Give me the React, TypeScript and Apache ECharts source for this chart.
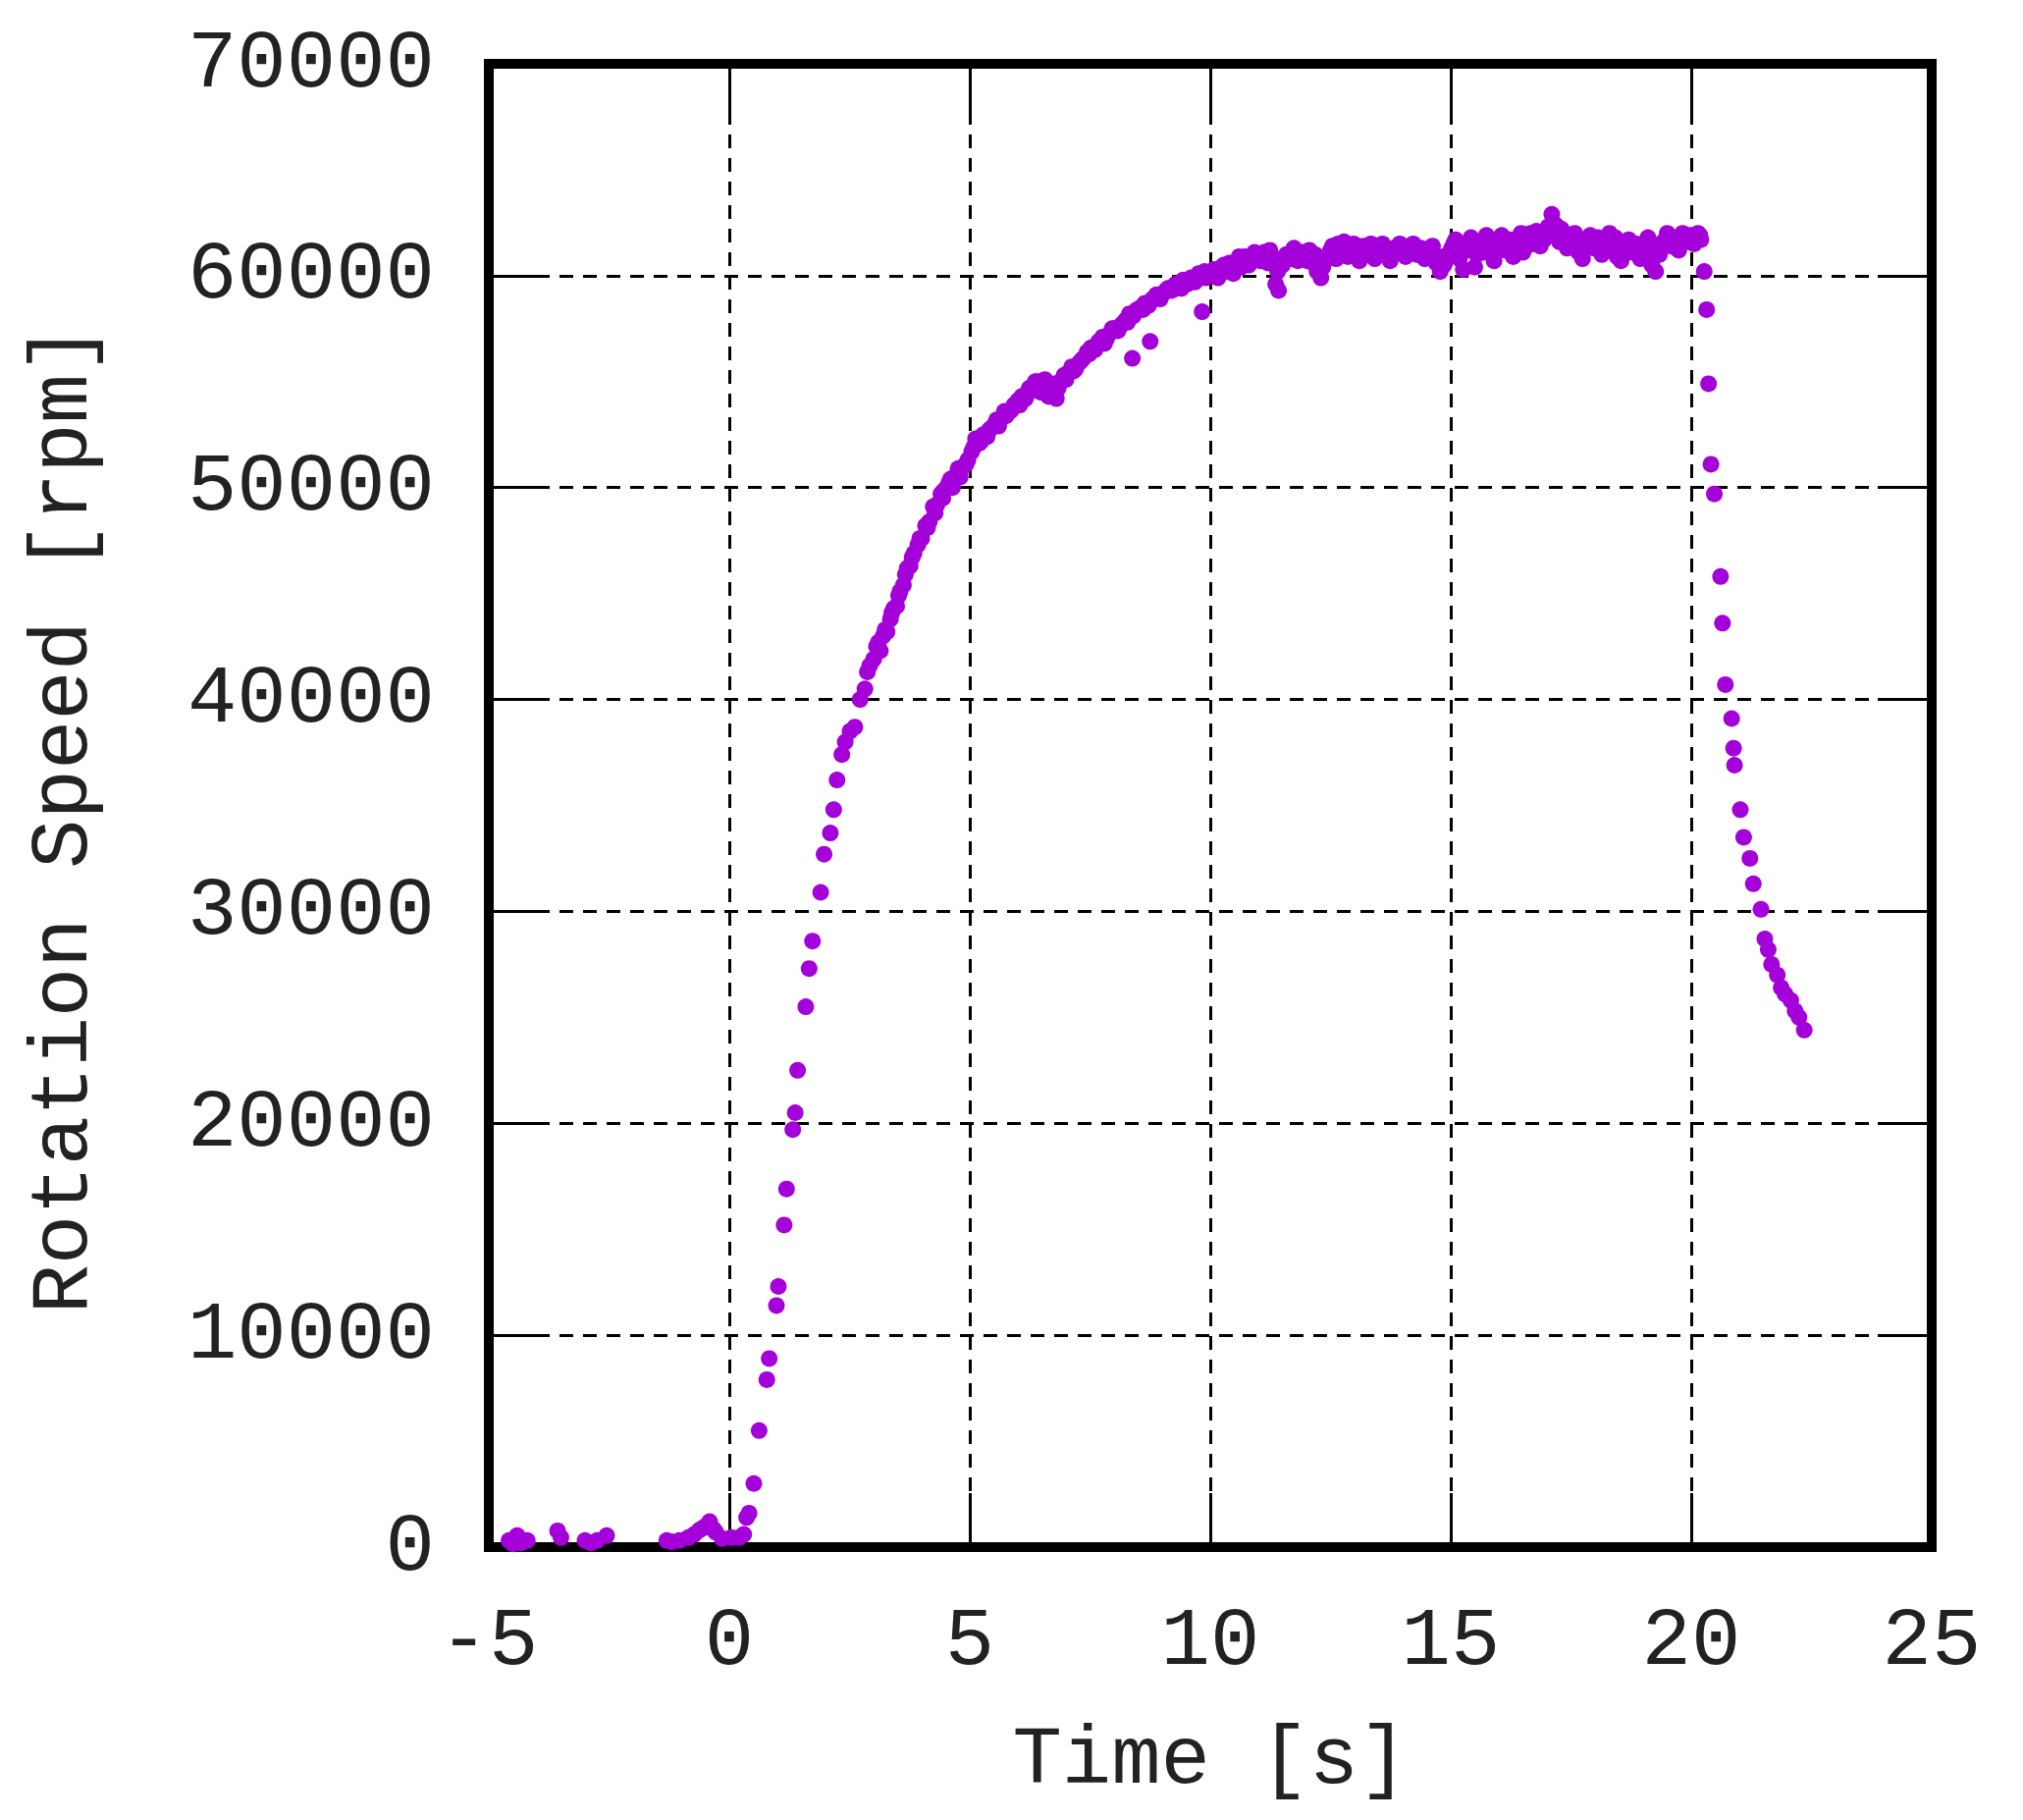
import React, { useEffect, useRef } from "react";
import * as echarts from "echarts";

// [time s, speed rpm], split by phase
const idle: [number, number][] = [
  [-4.62, -150], [-4.58, 310], [-4.5, 150], [-4.41, 540], [-4.33, 200],
  [-4.2, 310], [-3.57, 770], [-3.5, 450], [-3.0, 310], [-2.96, -150],
  [-2.88, 200], [-2.75, 310], [-2.55, 540], [-1.3, 310], [-1.2, 250],
  [-1.04, 310], [-0.85, 450], [-0.73, 600], [-0.62, 800], [-0.55, 900],
  [-0.48, 1000], [-0.41, 1200], [-0.33, 850], [-0.28, 700], [-0.15, 400],
  [0.04, 450], [0.2, 450], [0.3, 600],
];

const spinUp: [number, number][] = [
  [0.36, 1400], [0.41, 1600], [0.51, 3000], [0.62, 5500], [0.78, 7900],
  [0.83, 8900], [0.98, 11400], [1.02, 12300], [1.14, 15200], [1.19, 16900],
  [1.32, 19700], [1.37, 20500], [1.42, 22500], [1.59, 25500], [1.66, 27300],
  [1.73, 28600], [1.9, 30900], [1.97, 32700], [2.1, 33700], [2.17, 34800],
  [2.24, 36200], [2.34, 37400], [2.41, 38000], [2.51, 38500], [2.61, 38700],
  [2.72, 40000], [2.82, 40500], [2.87, 41300], [2.92, 41600], [3.0, 41900],
  [3.06, 42500], [3.14, 42300], [3.2, 43000], [3.28, 43200], [3.35, 43800],
  [3.42, 44300], [3.48, 44400], [3.55, 45100], [3.62, 45400], [3.7, 46200],
  [3.76, 46300], [3.84, 46900], [3.92, 47300], [4.0, 47600], [4.08, 48200],
  [4.16, 48400], [4.24, 49100], [4.32, 49200], [4.4, 49700], [4.48, 49900],
  [4.56, 50200], [4.64, 50000], [4.72, 50600], [4.8, 50500], [4.88, 51000],
  [4.96, 51300], [5.04, 51700], [5.12, 52300], [5.2, 52100], [5.28, 52500],
  [5.36, 52400], [5.44, 52800], [5.52, 53000], [5.6, 52900], [5.68, 53300],
  [5.76, 53400], [5.84, 53600], [5.92, 53900], [6.0, 54100], [6.08, 54300],
  [6.16, 54200], [6.24, 54700], [6.32, 54600], [6.4, 55000], [6.48, 54500],
  [6.56, 55100], [6.64, 54300], [6.72, 54900], [6.8, 54200], [6.88, 55000],
  [6.96, 55300], [7.04, 55400], [7.12, 55700], [7.2, 55600], [7.28, 55900],
  [7.36, 56100], [7.44, 56400], [7.52, 56600], [7.6, 56500], [7.68, 56900],
  [7.76, 57100], [7.84, 57000], [7.92, 57300], [8.0, 57500], [8.08, 57400],
  [8.16, 57700], [8.24, 57900], [8.32, 58200], [8.38, 56100], [8.4, 58100],
  [8.48, 58400], [8.56, 58500], [8.64, 58700], [8.72, 58600], [8.75, 56900],
  [8.8, 58900], [8.88, 59100], [8.96, 58900], [9.04, 59200], [9.12, 59400],
  [9.2, 59300], [9.28, 59600], [9.36, 59500], [9.44, 59800], [9.52, 59600],
  [9.6, 59900], [9.68, 59700], [9.76, 60100], [9.83, 58300], [9.9, 59900],
  [10.0, 60100],
];

// second pass over the thick part of the spin-up band
const spinUpBand: [number, number][] = [
  [3.1, 42700], [3.24, 43300], [3.38, 44100], [3.52, 44900], [3.66, 45900],
  [3.8, 46700], [3.96, 47600], [4.12, 48100], [4.28, 48800], [4.44, 49500],
  [4.6, 50400], [4.76, 50900], [4.92, 51100], [5.08, 51900], [5.24, 52200],
  [5.4, 52700], [5.56, 53200], [5.72, 53600], [5.88, 53700], [6.04, 53900],
  [6.2, 54500], [6.36, 55000], [6.52, 54800], [6.68, 54600], [6.84, 54700],
  [7.0, 55100], [7.16, 55500], [7.32, 56000], [7.48, 56300], [7.64, 56700],
  [7.8, 56800], [7.96, 57500], [8.12, 57600], [8.28, 57800], [8.44, 58300],
  [8.6, 58400], [8.76, 58800], [8.92, 59000], [9.08, 59300], [9.24, 59500],
  [9.4, 59400], [9.56, 59800], [9.72, 59900], [9.88, 60200],
];

const plateau: [number, number][] = [
  [10.08, 60300], [10.16, 59900], [10.24, 60400], [10.32, 60200], [10.4, 60600],
  [10.48, 60100], [10.56, 60700], [10.64, 60400], [10.72, 60900], [10.8, 60500],
  [10.88, 60800], [10.96, 61000], [11.04, 60700], [11.12, 61100], [11.2, 60600],
  [11.28, 60900], [11.36, 59600], [11.42, 59300], [11.5, 60500], [11.58, 61000],
  [11.66, 60800], [11.74, 61300], [11.82, 60700], [11.9, 61100], [11.98, 60900],
  [12.06, 61200], [12.14, 60600], [12.22, 60200], [12.3, 59900], [12.38, 60700],
  [12.46, 61000], [12.54, 61400], [12.62, 60800], [12.7, 61200], [12.78, 61600],
  [12.86, 60900], [12.94, 61300], [13.02, 61100], [13.1, 60700], [13.18, 61400],
  [13.26, 61000], [13.34, 61500], [13.42, 60800], [13.5, 61200], [13.58, 61500],
  [13.66, 61000], [13.74, 60700], [13.82, 61300], [13.9, 61100], [13.98, 61400],
  [14.06, 60900], [14.14, 61200], [14.22, 61500], [14.3, 61000], [14.38, 61300],
  [14.46, 60800], [14.54, 61100], [14.62, 61400], [14.7, 60600], [14.78, 60200],
  [14.86, 60500], [14.94, 61000], [15.02, 61300], [15.1, 61700], [15.18, 60800],
  [15.26, 60300], [15.34, 61200], [15.42, 61800], [15.5, 60400], [15.58, 61600],
  [15.66, 61100], [15.74, 61900], [15.82, 61300], [15.9, 60700], [15.98, 61500],
  [16.06, 61900], [16.14, 61200], [16.22, 61700], [16.3, 60900], [16.38, 61400],
  [16.46, 62000], [16.54, 61300], [16.62, 61800], [16.7, 61500], [16.78, 62100],
  [16.86, 61400], [16.94, 61700], [17.02, 62300], [17.1, 62900], [17.18, 62400],
  [17.26, 61600], [17.34, 61900], [17.42, 61300], [17.5, 61700], [17.58, 62000],
  [17.66, 61100], [17.74, 60800], [17.82, 61500], [17.9, 61900], [17.98, 61300],
  [18.06, 61800], [18.14, 61000], [18.22, 61600], [18.3, 62000], [18.38, 61400],
  [18.46, 60900], [18.54, 60700], [18.62, 61300], [18.7, 61700], [18.78, 61100],
  [18.86, 61500], [18.94, 60800], [19.02, 61200], [19.1, 61800], [19.18, 60500],
  [19.26, 60200], [19.34, 61000], [19.42, 61600], [19.5, 62000], [19.58, 61400],
  [19.66, 61800], [19.74, 61200], [19.82, 62000], [19.9, 61600], [19.98, 61900],
  [20.06, 61500], [20.14, 62000], [20.2, 61700],
];

// second pass over the plateau band
const plateauBand: [number, number][] = [
  [10.12, 60100], [10.28, 60500], [10.44, 60300], [10.6, 60900], [10.76, 60600],
  [10.92, 61100], [11.08, 60900], [11.24, 61200], [11.4, 60200], [11.54, 60800],
  [11.7, 61100], [11.86, 61000], [12.02, 60700], [12.18, 61000], [12.34, 60400],
  [12.5, 61200], [12.66, 61500], [12.82, 61000], [12.98, 61500], [13.14, 61200],
  [13.3, 61300], [13.46, 61000], [13.62, 61300], [13.78, 61100], [13.94, 61500],
  [14.1, 61100], [14.26, 61300], [14.42, 61100], [14.58, 61300], [14.74, 60900],
  [14.9, 60800], [15.06, 61500], [15.22, 61100], [15.38, 61500], [15.54, 61000],
  [15.7, 61500], [15.86, 61700], [16.02, 61200], [16.18, 61500], [16.34, 61700],
  [16.5, 61100], [16.66, 62000], [16.82, 61700], [16.98, 61900], [17.14, 61900],
  [17.3, 62200], [17.46, 61500], [17.62, 61700], [17.78, 61300], [17.94, 61600],
  [18.1, 61500], [18.26, 61300], [18.42, 61800], [18.58, 61000], [18.74, 61400],
  [18.9, 61200], [19.06, 61500], [19.22, 61000], [19.38, 61400], [19.54, 61700],
  [19.7, 61500], [19.86, 61800], [20.02, 61700], [20.18, 61900],
];

const coastDown: [number, number][] = [
  [20.27, 60200], [20.32, 58400], [20.36, 54900], [20.41, 51100], [20.48, 49700],
  [20.61, 45800], [20.65, 43600], [20.71, 40700], [20.84, 39100], [20.88, 37700],
  [20.9, 36900], [21.02, 34800], [21.09, 33500], [21.22, 32500], [21.29, 31300],
  [21.45, 30100], [21.53, 28700], [21.6, 28200], [21.67, 27500], [21.79, 27000],
  [21.87, 26400], [21.95, 26100], [22.07, 25800], [22.16, 25300], [22.24, 25000],
  [22.35, 24400],
];

const FONT = "Liberation Mono, DejaVu Sans Mono, monospace";
const TEXT = "#222";

// gnuplot-style inner ticks, fresh object per axis
const tick = () => ({
  show: true,
  inside: true,
  length: 55,
  lineStyle: { color: "#000", width: 3 },
});

const dashedGrid = () => ({
  show: true,
  lineStyle: { color: "#000", width: 3, type: [14, 10] as number[] },
});

const label = () => ({
  fontFamily: FONT,
  fontSize: 84,
  color: TEXT,
});

function App() {
  const chartRef = useRef<HTMLDivElement>(null);

  useEffect(() => {
    if (!chartRef.current) return undefined;
    const chart = echarts.init(chartRef.current, null, { renderer: "svg" });

    const options: echarts.EChartsOption = {
      animation: false,
      backgroundColor: "#fff",
      grid: {
        left: 490,
        top: 57,
        width: 1470,
        height: 1511,
        show: true,
        borderColor: "#000",
        borderWidth: 10,
        backgroundColor: "transparent",
      },
      xAxis: [
        {
          type: "value",
          min: -5,
          max: 25,
          interval: 5,
          position: "bottom",
          axisLine: { show: false, onZero: false },
          axisTick: tick(),
          axisLabel: { ...label(), margin: 54 },
          splitLine: dashedGrid(),
          name: "Time [s]",
          nameLocation: "middle",
          nameGap: 175,
          nameTextStyle: label(),
        },
        {
          type: "value",
          min: -5,
          max: 25,
          interval: 5,
          position: "top",
          axisLine: { show: false, onZero: false },
          axisTick: tick(),
          axisLabel: { show: false },
          splitLine: { show: false },
        },
      ],
      yAxis: [
        {
          type: "value",
          min: 0,
          max: 70000,
          interval: 10000,
          position: "left",
          axisLine: { show: false, onZero: false },
          axisTick: tick(),
          axisLabel: {
            ...label(),
            margin: 55,
            formatter: (v: number) => String(v),
          },
          splitLine: dashedGrid(),
          name: "Rotation Speed [rpm]",
          nameLocation: "middle",
          nameGap: 391,
          nameRotate: 90,
          nameTextStyle: { ...label(), padding: [0, 28, 0, 0] },
        },
        {
          type: "value",
          min: 0,
          max: 70000,
          interval: 10000,
          position: "right",
          axisLine: { show: false, onZero: false },
          axisTick: tick(),
          axisLabel: { show: false },
          splitLine: { show: false },
        },
      ],
      series: [
        {
          type: "scatter",
          xAxisIndex: 0,
          yAxisIndex: 0,
          symbol: "circle",
          symbolSize: 17,
          itemStyle: { color: "#a300da", opacity: 1 },
          data: [
            ...idle,
            ...spinUp,
            ...spinUpBand,
            ...plateau,
            ...plateauBand,
            ...coastDown,
          ],
        },
      ],
    };
    chart.setOption(options);
    return () => {
      chart.dispose();
    };
  }, []);

  return <div ref={chartRef} style={{ width: "2045px", height: "1838px" }} />;
}

export default App;
